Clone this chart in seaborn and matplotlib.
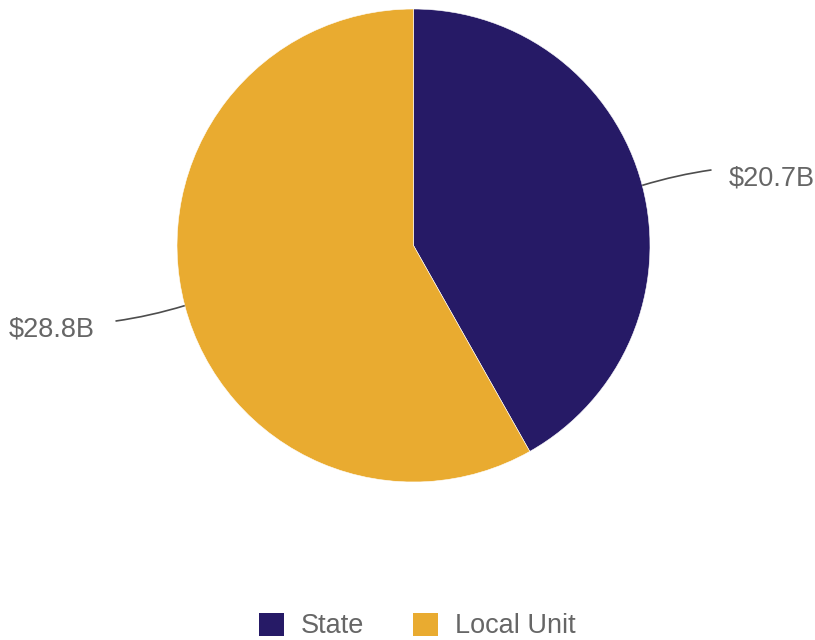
import numpy as np
import matplotlib
matplotlib.use("Agg")
import matplotlib.pyplot as plt
from matplotlib.path import Path
from matplotlib.patches import PathPatch
import seaborn as sns

# Spending by level of government (billions of dollars)
categories = ["State", "Local Unit"]
values = [20.7, 28.8]
value_labels = ["$20.7B", "$28.8B"]
colors = ["#261a66", "#e9ab30"]

sns.set_theme(style="white")
plt.rcParams["font.family"] = ["Liberation Sans", "DejaVu Sans"]

W, H = 815, 640
fig = plt.figure(figsize=(W / 100, H / 100), dpi=100)
ax = fig.add_axes([0, 0, 1, 1])

# pie centre and radius in pixels; axes limits map 1 data unit to the radius
cx, cy, r = 413.5, 245.5, 236.5

wedges, _ = ax.pie(
    values,
    colors=colors,
    startangle=90,
    counterclock=False,
    radius=1.0,
    wedgeprops=dict(edgecolor="white", linewidth=0.4),
)
ax.set_aspect("auto")
ax.set_xlim(-cx / r, (W - cx) / r)
ax.set_ylim(-(H - cy) / r, cy / r)
ax.axis("off")

text_color = "#666666"
line_color = "#4d4d4d"
for w, lab in zip(wedges, value_labels):
    theta = np.deg2rad((w.theta1 + w.theta2) / 2)
    c, s = np.cos(theta), np.sin(theta)
    p0 = np.array([c, s])
    end_ang = theta - np.deg2rad(0.5)
    p2 = np.array([1.30 * np.cos(end_ang), 1.30 * np.sin(end_ang)])
    p1 = 0.5 * (p0 + p2) + np.array([0.0, 0.012 * np.sign(s)])
    path = Path([p0, p1, p2], [Path.MOVETO, Path.CURVE3, Path.CURVE3])
    ax.add_patch(PathPatch(path, fill=False, edgecolor=line_color, linewidth=1.2))
    side = 1 if c >= 0 else -1
    gap = 0.072 if side > 0 else 0.088
    ax.text(
        p2[0] + side * gap,
        p2[1] - 0.036,
        lab,
        ha="left" if side > 0 else "right",
        va="center",
        fontsize=19.5,
        color=text_color,
    )

leg = ax.legend(
    wedges,
    categories,
    loc="center",
    bbox_to_anchor=(417 / W, 1 - 626 / H),
    bbox_transform=fig.transFigure,
    ncol=2,
    frameon=False,
    fontsize=19.5,
    handlelength=0.95,
    handleheight=0.95,
    handletextpad=0.6,
    columnspacing=1.8,
    borderaxespad=0,
)
for t in leg.get_texts():
    t.set_color(text_color)
for h in leg.legend_handles:
    h.set_edgecolor("none")

fig.savefig("out.png", dpi=100)
